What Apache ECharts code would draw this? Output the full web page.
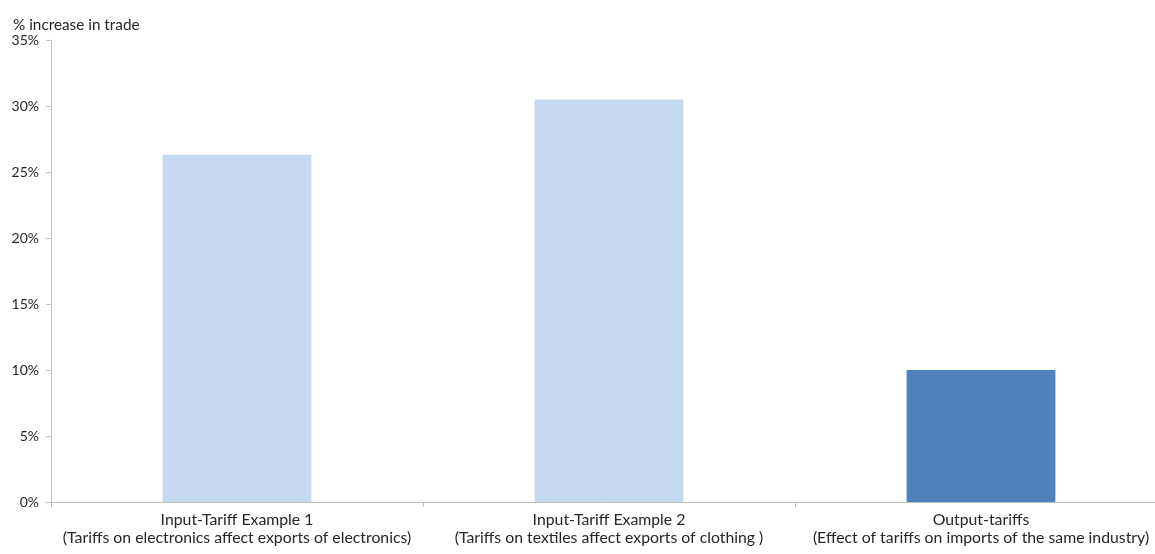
<!DOCTYPE html>
<html><head><meta charset="utf-8">
<script src="https://cdn.jsdelivr.net/npm/echarts@6/dist/echarts.min.js"></script>
<style>html,body{margin:0;padding:0;background:#fff}#c{width:1155px;height:554px}</style>
</head><body><div id="c"></div>
<script>
const categories = [
  "Input-Tariff Example 1\n(Tariffs on electronics affect exports of electronics)",
  "Input-Tariff Example 2\n(Tariffs on textiles affect exports of clothing )",
  "Output-tariffs\n(Effect of tariffs on imports of the same industry)"
];
const values = [26.3, 30.5, 10.0];
const barColors = ["#c6d9f0", "#c6d9f0", "#4f81bd"];
const yTicks = [0, 5, 10, 15, 20, 25, 30, 35];

const chart = echarts.init(document.getElementById('c'), null, {renderer: 'canvas'});
const font = "Lato, 'Open Sans', sans-serif";
chart.setOption({
  animation: false,
  textStyle: {fontFamily: font},
  title: {
    text: "% increase in trade", left: 8, top: 13,
    textStyle: {fontSize: 15.3, fontWeight: 'normal', color: '#262626', fontFamily: font}
  },
  grid: {left: 51, top: 40, width: 1116, height: 462, containLabel: false, outerBoundsMode: 'none'},
  xAxis: {
    type: 'category', data: categories,
    axisLine: {lineStyle: {color: '#bfbfbf', width: 1}},
    axisTick: {show: true, length: 5, lineStyle: {color: '#bfbfbf'}, alignWithLabel: false},
    axisLabel: {color: '#262626', fontSize: 15.8, lineHeight: 18, margin: 9, interval: 0, fontFamily: font}
  },
  yAxis: {
    type: 'value', min: yTicks[0], max: yTicks[yTicks.length - 1], interval: 5,
    axisLine: {show: true, lineStyle: {color: '#bfbfbf', width: 1}},
    axisTick: {show: true, length: 5, lineStyle: {color: '#bfbfbf'}},
    splitLine: {show: false},
    axisLabel: {color: '#262626', fontSize: 14, margin: 12, formatter: v => v + '%', fontFamily: font}
  },
  series: [{
    type: 'bar',
    barWidth: '40%',
    data: values.map((v, i) => ({value: v, itemStyle: {color: barColors[i]}}))
  }]
});
</script></body></html>
